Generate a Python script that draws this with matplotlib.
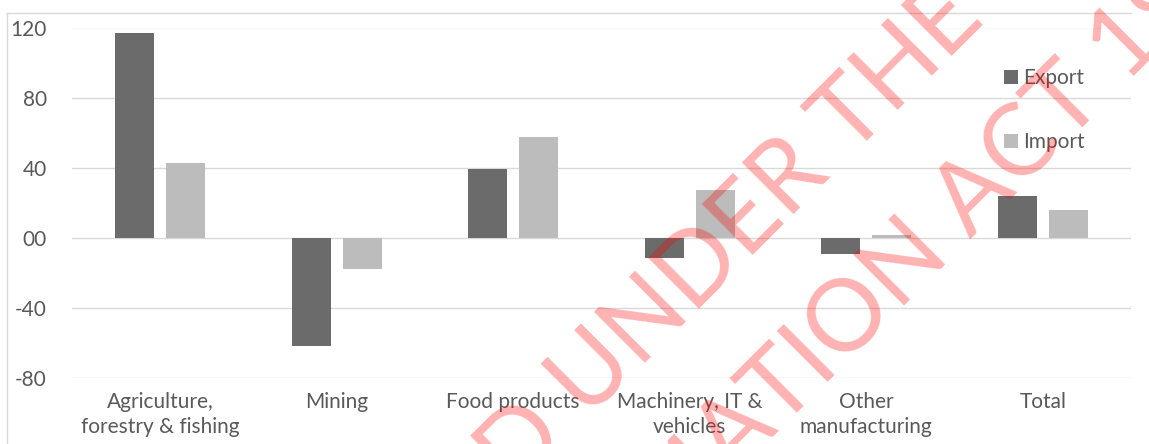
import matplotlib
matplotlib.use("Agg")
import matplotlib.pyplot as plt
from matplotlib.lines import Line2D
import numpy as np

# data
categories = ["Agriculture,\nforestry & fishing", "Mining", "Food products",
              "Machinery, IT &\nvehicles", "Other\nmanufacturing", "Total"]
export = [117, -62, 39, -11.5, -9, 23.7]
imports = [42.6, -18, 57.6, 27, 1.5, 16]
yticks = [-80, -40, 0, 40, 80, 120]
ytick_labels = ["-80", "-40", "00", "40", "80", "120"]
watermark = ["RELEASED UNDER THE", "FREEDOM OF INFORMATION ACT 1982"]

text_col = "#595959"
grid_col = "#d9d9d9"

plt.rcParams["font.family"] = ["Lato", "DejaVu Sans"]

W, H = 1149, 444
fig = plt.figure(figsize=(W / 100, H / 100), dpi=100)
ax = fig.add_axes([72 / W, 1 - 378 / H, 1059 / W, 350.5 / H])

x = np.arange(len(categories))
w = 0.22
off = 0.145
ax.bar(x - off, export, w, color="#6a6b6a", label="Export", zorder=2)
ax.bar(x + off, imports, w, color="#bcbcbc", label="Import", zorder=2)

ax.set_xlim(-0.5, len(categories) - 0.5)
ax.set_ylim(-80, 120)
ax.set_yticks(yticks)
ax.set_yticklabels(ytick_labels)
ax.set_xticks(x)
ax.set_xticklabels(categories, linespacing=1.3)
ax.tick_params(axis="y", length=0, pad=18, labelsize=15, labelcolor=text_col)
ax.tick_params(axis="x", length=0, pad=10, labelsize=15, labelcolor=text_col)
ax.grid(axis="y", color=grid_col, lw=1.0, zorder=0)
for s in ax.spines.values():
    s.set_visible(False)

leg = ax.legend(loc="upper left", bbox_to_anchor=(994 / W, 1 - 58 / H),
                bbox_transform=fig.transFigure, frameon=False, fontsize=15,
                handlelength=0.65, handleheight=0.65, handletextpad=0.25,
                labelspacing=2.1, borderpad=0)
for t in leg.get_texts():
    t.set_color(text_col)

# chart border (only top and left visible)
fig.add_artist(Line2D([7 / W, 1131 / W], [1 - 13 / H, 1 - 13 / H],
                      color=grid_col, lw=1.0, transform=fig.transFigure))
fig.add_artist(Line2D([7 / W, 7 / W], [0, 1 - 13 / H],
                      color=grid_col, lw=1.0, transform=fig.transFigure))

# watermark, one line at a time, placed by (along, across) the 45 deg diagonal
def diag(s, n):
    px = (s + n) / np.sqrt(2)
    py = (n - s) / np.sqrt(2)
    return px / W, 1 - py / H

for line, (s, n) in zip(watermark, [(145, 712), (40, 855)]):
    fx, fy = diag(s, n)
    fig.text(fx, fy, line, rotation=45, rotation_mode="anchor",
             ha="center", va="baseline", fontsize=72, fontweight="normal",
             color="red", alpha=0.3, zorder=10)

fig.savefig("out.png", dpi=100)
